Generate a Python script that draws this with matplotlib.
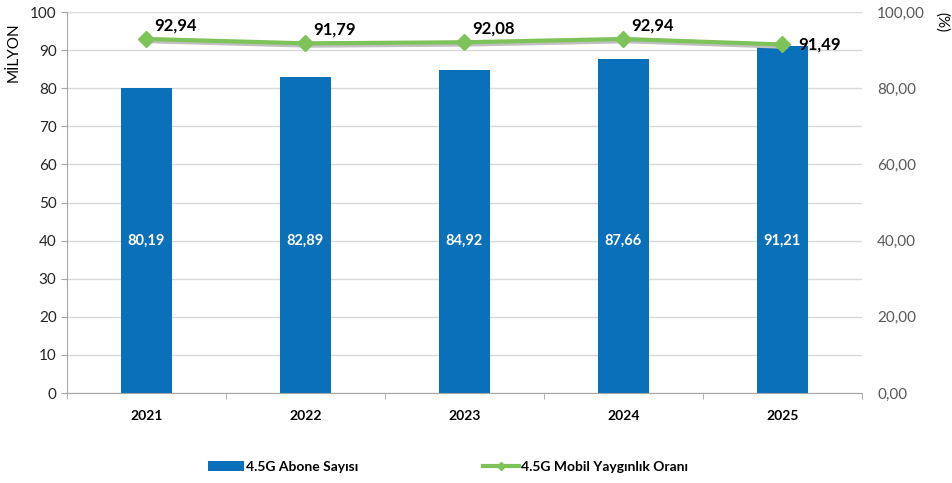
import numpy as np
import matplotlib.pyplot as plt
from matplotlib.ticker import FixedLocator
from matplotlib.lines import Line2D

plt.rcParams['font.family'] = ['Lato', 'DejaVu Sans']

years = ['2021', '2022', '2023', '2024', '2025']
subscribers = [80.19, 82.89, 84.92, 87.66, 91.21]
penetration = [92.94, 91.79, 92.08, 92.94, 91.49]
left_ticks = list(range(0, 101, 10))
right_ticks = list(range(0, 101, 20))

BAR_COLOR = '#0A70BA'
LINE_COLOR = '#7DC35A'
GRID_COLOR = '#D9D9D9'
AXIS_COLOR = '#A6A6A6'

fig = plt.figure(figsize=(9.53, 4.83), dpi=100)
ax = fig.add_axes([0.0703, 0.1863, 0.8342, 0.7887])
ax2 = ax.twinx()

x = np.arange(len(years))
ax.bar(x, subscribers, width=0.32, color=BAR_COLOR, zorder=2,
       label='4.5G Abone Sayısı')
for xi, v in zip(x, subscribers):
    ax.text(xi, 40, f'{v:.2f}'.replace('.', ','), ha='center', va='center',
            color='white', fontsize=10.5, fontweight='bold', zorder=3)

ax.set_xlim(-0.5, len(years) - 0.5)
ax.set_ylim(0, 100)
ax.yaxis.set_major_locator(FixedLocator(left_ticks))
ax.grid(axis='y', color=GRID_COLOR, linewidth=1, zorder=0)
ax.set_axisbelow(True)
ax.set_xticks(x)
ax.set_xticklabels(years, fontsize=10, fontweight='bold')
ax.xaxis.set_minor_locator(FixedLocator(np.arange(-0.5, len(years), 1)))
ax.tick_params(axis='x', which='major', length=0, pad=12)
ax.tick_params(axis='x', which='minor', length=4, color=AXIS_COLOR)
ax.tick_params(axis='y', length=4, color=AXIS_COLOR, labelsize=11, labelcolor='#262626')
for s in ['top', 'right']:
    ax.spines[s].set_visible(False)
for s in ['left', 'bottom']:
    ax.spines[s].set_color(AXIS_COLOR)
ax.set_ylabel('MİLYON', fontsize=11)
ax.yaxis.set_label_coords(-0.058, 0.895)

# shadow + line
ax2.plot(x + 0.02, np.array(penetration) - 0.6, color='#BFBFBF', linewidth=3, zorder=1)
ax2.plot(x, penetration, color=LINE_COLOR, linewidth=3, marker='D', markersize=8, zorder=4)
for i, (xi, v) in enumerate(zip(x, penetration)):
    if i == len(x) - 1:
        ax2.text(xi + 0.1, v, f'{v:.2f}'.replace('.', ','), ha='left', va='center',
                 fontsize=12, fontweight='bold', zorder=5)
    else:
        ax2.text(xi + 0.05, v + 1.5, f'{v:.2f}'.replace('.', ','), ha='left', va='bottom',
                 fontsize=12, fontweight='bold', zorder=5)
ax2.set_ylim(0, 100)
ax2.yaxis.set_major_locator(FixedLocator(right_ticks))
ax2.set_yticklabels([f'{t:.2f}'.replace('.', ',') for t in right_ticks])
ax2.tick_params(axis='y', length=0, pad=11, labelsize=11, labelcolor='#595959')
for s in ax2.spines.values():
    s.set_visible(False)
fig.text(0.988, 0.955, '(%)', rotation=270, ha='center', va='center', fontsize=11)

h1, l1 = ax.get_legend_handles_labels()
line_handle = Line2D([], [], color=LINE_COLOR, linewidth=3, marker='D', markersize=4)
fig.legend(h1 + [line_handle], l1 + ['4.5G Mobil Yaygınlık Oranı'], loc='center',
           bbox_to_anchor=(0.47, 0.033), ncol=2, frameon=False, columnspacing=9,
           handlelength=2.6, handletextpad=0.1, prop={'weight': 'bold', 'size': 10})

fig.savefig('out.png', dpi=100)
